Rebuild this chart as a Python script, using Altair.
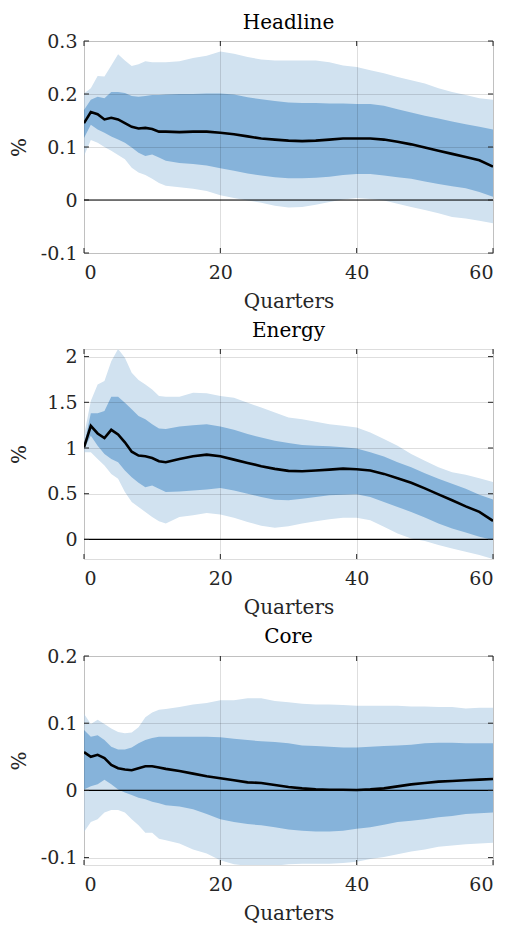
import altair as alt
import pandas as pd

quarters = list(range(0, 13)) + list(range(14, 61, 2))

# Headline
head_med = [0.145, 0.166, 0.162, 0.152, 0.155, 0.152, 0.145, 0.138, 0.135, 0.136, 0.134, 0.129, 0.129,
            0.128, 0.129, 0.129, 0.127, 0.124, 0.120, 0.116, 0.114, 0.112, 0.111, 0.112, 0.114, 0.116,
            0.116, 0.116, 0.114, 0.110, 0.105, 0.099, 0.093, 0.087, 0.081, 0.075, 0.063]
head_hi68 = [0.170, 0.189, 0.195, 0.192, 0.204, 0.204, 0.202, 0.196, 0.195, 0.196, 0.198, 0.198, 0.199,
             0.200, 0.200, 0.201, 0.201, 0.199, 0.194, 0.190, 0.187, 0.184, 0.183, 0.183, 0.182, 0.182,
             0.181, 0.181, 0.178, 0.171, 0.165, 0.159, 0.154, 0.148, 0.143, 0.138, 0.133]
head_lo68 = [0.117, 0.142, 0.133, 0.127, 0.120, 0.114, 0.108, 0.099, 0.089, 0.083, 0.086, 0.080, 0.074,
             0.070, 0.068, 0.065, 0.060, 0.055, 0.050, 0.046, 0.043, 0.041, 0.041, 0.042, 0.044, 0.047,
             0.049, 0.049, 0.046, 0.043, 0.040, 0.035, 0.030, 0.026, 0.022, 0.015, 0.006]
head_hi90 = [0.201, 0.211, 0.234, 0.233, 0.254, 0.275, 0.263, 0.253, 0.256, 0.262, 0.260, 0.260, 0.260,
             0.262, 0.268, 0.272, 0.280, 0.276, 0.270, 0.265, 0.263, 0.263, 0.263, 0.263, 0.260, 0.254,
             0.251, 0.245, 0.239, 0.232, 0.226, 0.220, 0.211, 0.204, 0.198, 0.192, 0.189]
head_lo90 = [0.083, 0.113, 0.108, 0.100, 0.093, 0.085, 0.077, 0.061, 0.052, 0.047, 0.040, 0.032, 0.027,
             0.024, 0.021, 0.017, 0.009, 0.004, -0.001, -0.005, -0.011, -0.014, -0.013, -0.009, -0.004, 0.001,
             0.004, 0.002, -0.001, -0.007, -0.013, -0.019, -0.025, -0.032, -0.035, -0.039, -0.044]

# Energy
en_med = [1.007, 1.243, 1.159, 1.109, 1.199, 1.149, 1.062, 0.960, 0.917, 0.909, 0.891, 0.855, 0.844,
          0.880, 0.909, 0.928, 0.909, 0.873, 0.837, 0.801, 0.772, 0.750, 0.746, 0.754, 0.764, 0.775,
          0.768, 0.754, 0.717, 0.670, 0.620, 0.558, 0.493, 0.428, 0.362, 0.301, 0.203]
en_hi68 = [1.025, 1.380, 1.380, 1.406, 1.562, 1.562, 1.496, 1.424, 1.351, 1.315, 1.261, 1.214, 1.207,
           1.236, 1.250, 1.261, 1.236, 1.199, 1.152, 1.116, 1.080, 1.054, 1.033, 1.025, 1.018, 1.007,
           0.996, 0.953, 0.906, 0.844, 0.790, 0.725, 0.663, 0.609, 0.554, 0.489, 0.438]
en_lo68 = [0.989, 1.134, 1.025, 0.935, 0.880, 0.844, 0.754, 0.681, 0.620, 0.572, 0.591, 0.554, 0.518,
           0.525, 0.536, 0.547, 0.562, 0.536, 0.500, 0.464, 0.435, 0.428, 0.446, 0.464, 0.482, 0.489,
           0.493, 0.464, 0.409, 0.355, 0.301, 0.239, 0.174, 0.120, 0.076, 0.029, -0.007]
en_hi90 = [1.134, 1.514, 1.696, 1.732, 1.949, 2.083, 1.986, 1.822, 1.743, 1.696, 1.641, 1.569, 1.562,
           1.562, 1.605, 1.598, 1.569, 1.551, 1.496, 1.442, 1.388, 1.333, 1.315, 1.286, 1.261, 1.243,
           1.225, 1.170, 1.098, 1.025, 0.935, 0.862, 0.790, 0.736, 0.707, 0.670, 0.627]
en_lo90 = [0.953, 0.953, 0.880, 0.808, 0.717, 0.663, 0.518, 0.409, 0.355, 0.301, 0.246, 0.199, 0.174,
           0.246, 0.264, 0.290, 0.272, 0.236, 0.192, 0.149, 0.127, 0.145, 0.174, 0.199, 0.221, 0.236,
           0.236, 0.210, 0.138, 0.065, 0.011, -0.018, -0.062, -0.098, -0.134, -0.170, -0.214]

# Core
core_med = [0.057, 0.050, 0.053, 0.048, 0.038, 0.033, 0.031, 0.030, 0.033, 0.036, 0.036, 0.034, 0.032,
            0.029, 0.025, 0.021, 0.018, 0.015, 0.012, 0.011, 0.008, 0.005, 0.003, 0.0015, 0.001, 0.001,
            0.0005, 0.0015, 0.003, 0.006, 0.009, 0.011, 0.013, 0.014, 0.015, 0.016, 0.017]
core_hi68 = [0.090, 0.080, 0.082, 0.075, 0.065, 0.061, 0.061, 0.064, 0.070, 0.075, 0.078, 0.080, 0.080,
             0.080, 0.080, 0.080, 0.079, 0.077, 0.075, 0.073, 0.072, 0.070, 0.067, 0.066, 0.065, 0.064,
             0.064, 0.065, 0.066, 0.067, 0.068, 0.070, 0.071, 0.071, 0.070, 0.070, 0.070]
core_lo68 = [0.0015, 0.006, 0.009, 0.016, 0.009, 0.0015, -0.003, -0.007, -0.011, -0.013, -0.017, -0.019, -0.022,
             -0.024, -0.028, -0.035, -0.043, -0.047, -0.050, -0.052, -0.055, -0.058, -0.060, -0.061, -0.061, -0.060,
             -0.057, -0.055, -0.051, -0.047, -0.045, -0.043, -0.040, -0.038, -0.035, -0.034, -0.033]
core_hi90 = [0.114, 0.099, 0.105, 0.099, 0.092, 0.087, 0.085, 0.086, 0.094, 0.109, 0.116, 0.120, 0.121,
             0.124, 0.128, 0.130, 0.134, 0.134, 0.137, 0.137, 0.133, 0.131, 0.129, 0.128, 0.128, 0.127,
             0.126, 0.126, 0.126, 0.126, 0.125, 0.125, 0.124, 0.124, 0.122, 0.123, 0.123]
core_lo90 = [-0.062, -0.047, -0.043, -0.033, -0.029, -0.029, -0.033, -0.043, -0.052, -0.063, -0.063, -0.072, -0.074,
             -0.079, -0.088, -0.094, -0.104, -0.110, -0.112, -0.113, -0.112, -0.110, -0.109, -0.109, -0.109, -0.108,
             -0.106, -0.102, -0.099, -0.095, -0.091, -0.088, -0.084, -0.082, -0.080, -0.079, -0.078]

x_ticks = [0, 20, 40, 60]
head_yticks = [-0.1, 0, 0.1, 0.2, 0.3]
en_yticks = [0, 0.5, 1, 1.5, 2]
core_yticks = [-0.1, 0, 0.1, 0.2]

FONT = "DejaVu Serif"
LIGHT = "#d1e2f0"
DARK = "#86b3da"
BORDER = "#262626"
W = 409
TL = 5


def panel(title, lo90, lo68, med, hi68, hi90, yticks, ydomain, h, toff):
    df = pd.DataFrame({"q": quarters, "lo90": lo90, "lo68": lo68, "med": med,
                       "hi68": hi68, "hi90": hi90})
    base = alt.Chart(df)
    xscale = alt.Scale(domain=[0, 60], nice=False, zero=False)
    yscale = alt.Scale(domain=ydomain, nice=False, zero=False)
    xaxis = alt.Axis(values=x_ticks, title="Quarters", grid=True, gridColor="#000000",
                     gridOpacity=0.13, domain=False, ticks=False, labelPadding=10,
                     titlePadding=9, labelFontSize=19, titleFontSize=20, labelFont=FONT,
                     titleFont=FONT, titleFontWeight="normal", labelColor="#262626",
                     titleColor="#262626", zindex=1)
    yaxis = alt.Axis(values=yticks, title="%", grid=True, gridColor="#000000",
                     gridOpacity=0.13, domain=False, ticks=False, labelPadding=7,
                     labelExpr="replace(datum.label, '\u2212', '-')", format="~g",
                     titlePadding=15, labelFontSize=19, titleFontSize=20, labelFont=FONT,
                     titleFont=FONT, titleFontWeight="normal", labelColor="#262626",
                     titleColor="#262626", minExtent=40, maxExtent=40, zindex=1)
    x = alt.X("q:Q", scale=xscale, axis=xaxis, title="Quarters")
    light = base.mark_area(color=LIGHT, clip=True).encode(
        x=x, y=alt.Y("lo90:Q", scale=yscale, axis=yaxis, title="%"), y2="hi90:Q")
    dark = base.mark_area(color=DARK, clip=True).encode(
        x=alt.X("q:Q", title="Quarters"), y=alt.Y("lo68:Q", title="%"), y2="hi68:Q")
    line = base.mark_line(color="black", strokeWidth=2.6, clip=True).encode(
        x=alt.X("q:Q", title="Quarters"), y=alt.Y("med:Q", title="%"))
    zero = alt.Chart(pd.DataFrame({"z": [0]})).mark_rule(color="black", strokeWidth=1.2).encode(
        y=alt.Y("z:Q", title="%"))
    xt = alt.Chart(pd.DataFrame({"t": x_ticks}))
    yt = alt.Chart(pd.DataFrame({"t": yticks}))
    xt_top = xt.mark_rule(color=BORDER).encode(
        x=alt.X("t:Q", title="Quarters"), y=alt.value(0), y2=alt.value(TL))
    xt_bot = xt.mark_rule(color=BORDER).encode(
        x=alt.X("t:Q", title="Quarters"), y=alt.value(h), y2=alt.value(h - TL))
    yt_l = yt.mark_rule(color=BORDER).encode(
        y=alt.Y("t:Q", title="%"), x=alt.value(0), x2=alt.value(TL))
    yt_r = yt.mark_rule(color=BORDER).encode(
        y=alt.Y("t:Q", title="%"), x=alt.value(W), x2=alt.value(W - TL))
    return alt.layer(light, dark, line, zero, xt_top, xt_bot, yt_l, yt_r).properties(
        width=W, height=h,
        title=alt.TitleParams(title, font=FONT, fontSize=20, fontWeight="normal",
                              color="black", offset=toff, frame="group"))


p1 = panel("Headline", head_lo90, head_lo68, head_med, head_hi68, head_hi90,
           head_yticks, [-0.1, 0.3], 212, -1)
p2 = panel("Energy", en_lo90, en_lo68, en_med, en_hi68, en_hi90,
           en_yticks, [-0.214, 2.083], 210, 7)
p3 = panel("Core", core_lo90, core_lo68, core_med, core_hi68, core_hi90,
           core_yticks, [-0.111, 0.2], 209, 0)

chart = alt.vconcat(p1, p2, p3, spacing=8).configure_view(
    stroke=BORDER, strokeWidth=1).configure(
    background="white", padding={"top": 4, "left": 0, "right": 0, "bottom": 0})

chart.save("out.html", embed_options={"renderer": "svg", "actions": False})
